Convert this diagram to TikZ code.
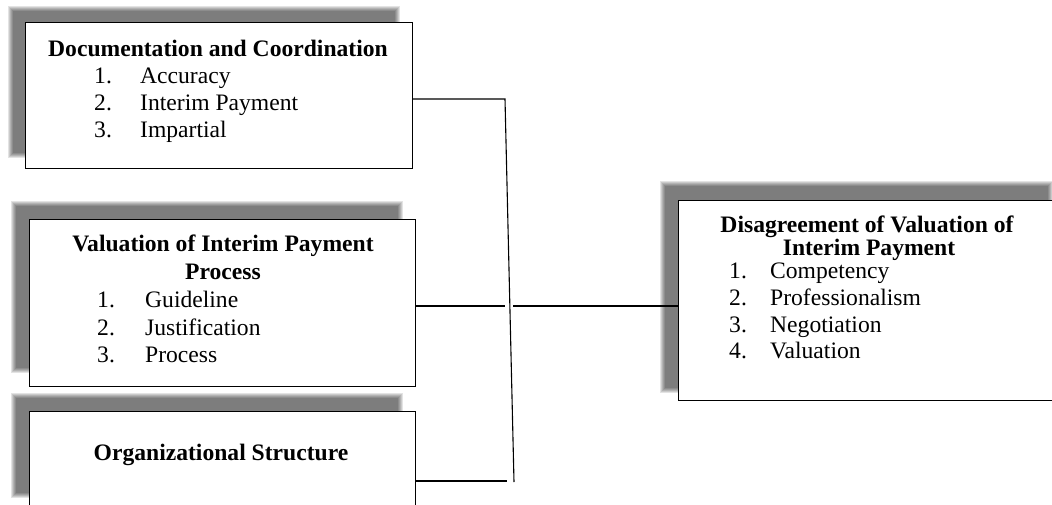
\documentclass[tikz,border=0pt]{standalone}
\usepackage{fontspec}
\setmainfont{Liberation Serif}
\newcommand{\blurshadow}[4]{%
  \foreach \i in {0,1,...,5}{%
    \fill[black,opacity=0.11] ({#1-2.5+\i},{#2-2.5+\i}) rectangle ({#3+2.5-\i},{#4+2.5-\i});}}
\newcommand{\itm}[3]{\hbox to #1pt{#2\hfil}#3}
\tikzset{
  box/.style={draw=black, fill=white, line width=1.2pt, rectangle, inner sep=0pt, anchor=north west},
  ttl/.style={inner sep=0pt, anchor=base, font=\fontsize{23.6}{27}\selectfont\bfseries},
  li/.style={inner sep=0pt, anchor=base west, font=\fontsize{23.6}{27}\selectfont},
  conn/.style={draw=black, line width=1.1pt}
}
\begin{document}
\begin{tikzpicture}[x=1pt,y=-1pt]
\useasboundingbox (0,0) rectangle (1052,504);
\clip (0,0) rectangle (1052,504);
\fill[white] (0,0) rectangle (1052,504);
% shadows
\blurshadow{10}{8}{397}{155}
\blurshadow{13}{203}{400}{370}
\blurshadow{13}{395}{400}{495}
\blurshadow{662}{183}{1050}{390}
% boxes
\node[box, minimum width=387pt, minimum height=146pt] (b1) at (25,22) {};
\node[box, minimum width=386pt, minimum height=167pt] (b2) at (29,219) {};
\node[box, minimum width=386pt, minimum height=110pt] (b3) at (29,411) {};
\node[box, minimum width=380pt, minimum height=200pt] (b4) at (678,200) {};
% box 1 text
\node[ttl] (t1) at (218,56) {Documentation and Coordination};
\node[li] (t1a) at (94,83) {\itm{46}{1.}{Accuracy}};
\node[li] (t1b) at (94,110) {\itm{46}{2.}{Interim Payment}};
\node[li] (t1c) at (94,137) {\itm{46}{3.}{Impartial}};
% box 2 text
\node[ttl] (t2) at (223,251) {Valuation of Interim Payment};
\node[ttl] (t2x) at (223,279) {Process};
\node[li] (t2a) at (97,307) {\itm{48}{1.}{Guideline}};
\node[li] (t2b) at (97,335) {\itm{48}{2.}{Justification}};
\node[li] (t2c) at (97,362) {\itm{48}{3.}{Process}};
% box 3 text
\node[ttl] (t3) at (221,460) {Organizational Structure};
% box 4 text
\node[ttl] (t4) at (867,232) {Disagreement of Valuation of};
\node[ttl] (t4x) at (869,255) {Interim Payment};
\node[li] (t4a) at (729,278) {\itm{41}{1.}{Competency}};
\node[li] (t4b) at (729,305) {\itm{41}{2.}{Professionalism}};
\node[li] (t4c) at (729,332) {\itm{41}{3.}{Negotiation}};
\node[li] (t4d) at (729,358) {\itm{41}{4.}{Valuation}};
% connectors
\coordinate (j1) at (505,99);
\coordinate (j2) at (514,482);
\coordinate (m1) at (505,306);
\coordinate (m2) at (513,306);
\coordinate (j3) at (507,481);
\draw[conn] (b1.east |- j1) -- (j1) -- (j2);
\draw[conn] (b2.east |- m1) -- (m1);
\draw[conn] (m2) -- (b4.west |- m2);
\draw[conn] (b3.east |- j3) -- (j3);
\end{tikzpicture}
\end{document}
